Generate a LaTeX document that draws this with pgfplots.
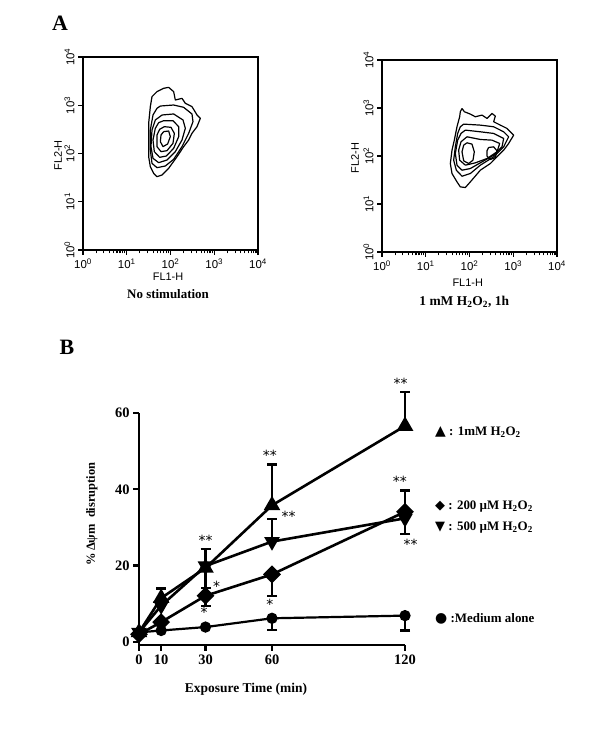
\documentclass[border=0pt]{standalone}
\usepackage{fontspec}
\setmainfont{Liberation Serif}
\newfontfamily\arial{Liberation Sans}
\newfontfamily\dejavu{DejaVu Sans}
\usepackage{pgfplots}
\pgfplotsset{compat=1.18}
\pgfplotsset{
  facs/.style={
    scale only axis, width=175bp, height=193bp,
    xmin=0, xmax=4, ymin=0, ymax=4,
    xtick={0,1,2,3,4}, ytick={0,1,2,3,4},
    xticklabels={10\textsuperscript{0},10\textsuperscript{1},10\textsuperscript{2},10\textsuperscript{3},10\textsuperscript{4}},
    yticklabels={10\textsuperscript{0},10\textsuperscript{1},10\textsuperscript{2},10\textsuperscript{3},10\textsuperscript{4}},
    minor xtick={0.301,0.477,0.602,0.699,0.778,0.845,0.903,0.954,
                 1.301,1.477,1.602,1.699,1.778,1.845,1.903,1.954,
                 2.301,2.477,2.602,2.699,2.778,2.845,2.903,2.954,
                 3.301,3.477,3.602,3.699,3.778,3.845,3.903,3.954},
    xtick pos=left, ytick pos=left, tick align=outside,
    major tick length=5bp, minor tick length=3.5bp,
    every tick/.style={black, line width=1.1bp},
    axis line style={line width=1.9bp},
    ticklabel style={font=\arial\fontsize{11.5}{11.5}\selectfont},
    yticklabel style={rotate=90, anchor=south},
    clip=false,
  },
  cont/.style={black, line width=1.2bp, line join=round, mark=none},
  ebp/.style={draw=none, mark=none, forget plot,
    error bars/.cd, y dir=plus, y explicit,
    error bar style={black, line width=2.2bp},
    error mark options={black, rotate=90, mark size=5bp, line width=2.2bp}},
  ebm/.style={draw=none, mark=none, forget plot,
    error bars/.cd, y dir=minus, y explicit,
    error bar style={black, line width=2.2bp},
    error mark options={black, rotate=90, mark size=5bp, line width=2.2bp}},
}
\begin{document}
\begin{tikzpicture}
\useasboundingbox (0bp,0bp) rectangle (600bp,743bp);

\node[font=\bfseries\fontsize{22}{22}\selectfont] at (60bp,720bp) {A};
\node[font=\bfseries\fontsize{22}{22}\selectfont] at (67bp,396bp) {B};

% ---------------- Panel A left
\begin{axis}[facs, at={(83bp,493bp)}, anchor=south west]
\addplot[cont] coordinates {(1.958,3.371) (2.072,3.282) (2.110,3.109) (2.263,3.143) (2.339,3.040) (2.491,2.971) (2.606,2.798) (2.682,2.729) (2.606,2.556) (2.491,2.418) (2.415,2.280) (2.301,2.142) (2.149,1.934) (1.958,1.693) (1.806,1.554) (1.691,1.520) (1.615,1.589) (1.539,1.727) (1.501,1.934) (1.501,2.280) (1.501,2.625) (1.539,2.971) (1.577,3.178) (1.691,3.282) (1.844,3.351) (1.958,3.371)};
\addplot[cont] coordinates {(1.768,2.984) (2.072,3.005) (2.301,2.957) (2.491,2.819) (2.514,2.660) (2.415,2.418) (2.263,2.142) (2.072,1.879) (1.882,1.741) (1.691,1.706) (1.577,1.796) (1.539,2.073) (1.539,2.487) (1.600,2.798) (1.691,2.936) (1.768,2.984)};
\addplot[cont] coordinates {(1.806,2.798) (2.072,2.819) (2.286,2.694) (2.339,2.522) (2.263,2.280) (2.110,2.038) (1.920,1.865) (1.730,1.810) (1.600,1.900) (1.554,2.142) (1.577,2.487) (1.653,2.694) (1.806,2.798)};
\addplot[cont] coordinates {(1.844,2.680) (2.057,2.680) (2.187,2.556) (2.187,2.349) (2.072,2.107) (1.905,1.948) (1.752,1.921) (1.630,2.038) (1.600,2.280) (1.653,2.522) (1.730,2.639) (1.844,2.680)};
\addplot[cont] coordinates {(1.859,2.556) (2.011,2.542) (2.088,2.418) (2.057,2.211) (1.920,2.059) (1.783,2.038) (1.691,2.142) (1.691,2.383) (1.752,2.501) (1.859,2.556)};
\addplot[cont] coordinates {(1.844,2.453) (1.958,2.466) (1.996,2.349) (1.935,2.197) (1.829,2.142) (1.768,2.245) (1.783,2.383) (1.844,2.453)};
\node[font=\arial\fontsize{11}{11}\selectfont] at (axis description cs:0.486,-0.14) {FL1-H};
\node[font=\arial\fontsize{11}{11}\selectfont, rotate=90] at (axis description cs:-0.143,0.49) {FL2-H};
\node[font=\bfseries\fontsize{13}{13}\selectfont] at (axis description cs:0.486,-0.228) {No stimulation};
\end{axis}

% ---------------- Panel A right
\begin{axis}[facs, at={(382bp,491bp)}, anchor=south west, height=192bp]
\addplot[cont] coordinates {(1.829,2.991) (1.882,2.922) (2.019,2.873) (2.133,2.817) (2.286,2.852) (2.400,2.783) (2.514,2.887) (2.590,2.831) (2.552,2.713) (2.705,2.643) (2.857,2.574) (3.010,2.435) (2.895,2.261) (2.781,2.122) (2.629,1.983) (2.476,1.843) (2.248,1.704) (2.019,1.461) (1.905,1.343) (1.790,1.357) (1.714,1.461) (1.600,1.635) (1.562,1.843) (1.600,2.122) (1.653,2.330) (1.714,2.609) (1.775,2.817) (1.790,2.922) (1.829,2.991)};
\addplot[cont] coordinates {(1.867,2.664) (2.248,2.643) (2.552,2.609) (2.781,2.504) (2.895,2.400) (2.781,2.191) (2.552,1.983) (2.248,1.809) (2.019,1.635) (1.829,1.579) (1.699,1.704) (1.638,1.913) (1.676,2.191) (1.730,2.470) (1.790,2.609) (1.867,2.664)};
\addplot[cont] coordinates {(1.905,2.539) (2.248,2.504) (2.552,2.470) (2.781,2.365) (2.743,2.191) (2.552,2.017) (2.286,1.878) (2.019,1.739) (1.829,1.704) (1.714,1.809) (1.676,2.052) (1.730,2.330) (1.806,2.470) (1.905,2.539)};
\addplot[cont] coordinates {(1.943,2.400) (2.248,2.344) (2.514,2.330) (2.690,2.261) (2.629,2.087) (2.400,1.948) (2.133,1.857) (1.905,1.809) (1.775,1.913) (1.752,2.122) (1.806,2.296) (1.943,2.400)};
\addplot[cont] coordinates {(1.943,2.275) (2.057,2.247) (2.110,2.087) (2.080,1.913) (1.981,1.843) (1.867,1.899) (1.829,2.087) (1.867,2.226) (1.943,2.275)};
\addplot[cont] coordinates {(2.438,2.177) (2.552,2.191) (2.629,2.108) (2.590,1.969) (2.476,1.927) (2.400,1.997) (2.400,2.108) (2.438,2.177)};
\node[font=\arial\fontsize{11}{11}\selectfont] at (axis description cs:0.49,-0.16) {FL1-H};
\node[font=\arial\fontsize{11}{11}\selectfont, rotate=90] at (axis description cs:-0.154,0.49) {FL2-H};
\node[font=\bfseries\fontsize{13.5}{13.5}\selectfont] at (axis description cs:0.47,-0.26) {1 mM H\textsubscript{2}O\textsubscript{2}, 1h};
\end{axis}

% ---------------- Panel B
\begin{axis}[at={(139bp,98bp)}, anchor=south west, scale only axis,
  width=266bp, height=232bp,
  xmin=0, xmax=120, ymin=-0.8, ymax=60,
  axis lines*=left, axis line style={line width=2.3bp, -},
  xtick={0,10,30,60,120}, ytick={0,20,40,60},
  xticklabels={0,10,30,60,120}, yticklabels={0,20,40,60},
  tick align=outside, major tick length=6bp,
  every tick/.style={black, line width=2.3bp},
  ticklabel style={font=\bfseries\fontsize{14.5}{14.5}\selectfont},
  clip=false]
% error bars
\addplot[ebp] coordinates {(10,11.5) +- (0,2.5) (30,19.4) +- (0,4.9) (60,35.8) +- (0,10.7) (120,56.6) +- (0,8.9)};
\addplot[ebm] coordinates {(30,12.1) +- (0,2.6) (60,17.7) +- (0,5.6)};
\addplot[ebp] coordinates {(120,34.1) +- (0,5.6)};
\addplot[ebm] coordinates {(30,19.9) +- (0,5.7) (120,32.4) +- (0,4.1)};
\addplot[ebp] coordinates {(60,26.3) +- (0,6.0)};
\addplot[ebm] coordinates {(60,6.2) +- (0,3.0) (120,6.9) +- (0,3.9)};
% series
\addplot[black, line width=2.2bp, mark=*, mark size=4.5bp, mark options={solid}] coordinates {(0,2.5) (10,3) (30,3.9) (60,6.2) (120,6.9)};
\addplot[black, line width=2.6bp, mark=square*, mark size=5bp, mark options={solid, rotate=45}] coordinates {(0,2) (10,5.2) (30,12.1) (60,17.7) (120,34.1)};
\addplot[black, line width=2.6bp, mark=triangle*, mark size=6.5bp, mark options={solid, rotate=180}] coordinates {(0,2.5) (10,9.5) (30,19.9) (60,26.3) (120,32.4)};
\addplot[black, line width=2.6bp, mark=triangle*, mark size=7bp, mark options={solid}] coordinates {(0,2.5) (10,11.5) (30,19.4) (60,35.8) (120,56.6)};
% significance stars
\begin{scope}[every node/.style={font=\dejavu\fontsize{14}{14}\selectfont, inner sep=0pt}]
\node at (axis cs:118,67.8) {**};
\node at (axis cs:59,48.9) {**};
\node at (axis cs:67.5,33) {**};
\node at (axis cs:30,26.6) {**};
\node at (axis cs:35,14.5) {*};
\node at (axis cs:29.4,7.8) {*};
\node at (axis cs:59,9.8) {*};
\node at (axis cs:117.7,42.2) {**};
\node at (axis cs:122.5,25.6) {**};
\end{scope}
\end{axis}

\node[font=\bfseries\fontsize{13.5}{13.5}\selectfont] at (246bp,54bp) {Exposure Time (min)};
\node[font=\bfseries\fontsize{12.5}{12.5}\selectfont, rotate=90] at (92bp,229bp) {\%\,Δψm\ \ disruption};

\begin{scope}[every node/.style={anchor=west, font=\bfseries\fontsize{13}{13}\selectfont, inner sep=0pt}]
\node at (435bp,311bp) {{\dejavu\fontsize{14}{14}\selectfont ▲} : 1mM H\textsubscript{2}O\textsubscript{2}};
\node at (435bp,236bp) {{\dejavu\fontsize{13}{13}\selectfont ◆} : 200 µM H\textsubscript{2}O\textsubscript{2}};
\node at (435bp,215bp) {{\dejavu\fontsize{13}{13}\selectfont ▼} : 500 µM H\textsubscript{2}O\textsubscript{2}};
\node at (435bp,124bp) {{\dejavu\fontsize{14}{14}\selectfont ●} :Medium alone};
\end{scope}
\end{tikzpicture}
\end{document}
